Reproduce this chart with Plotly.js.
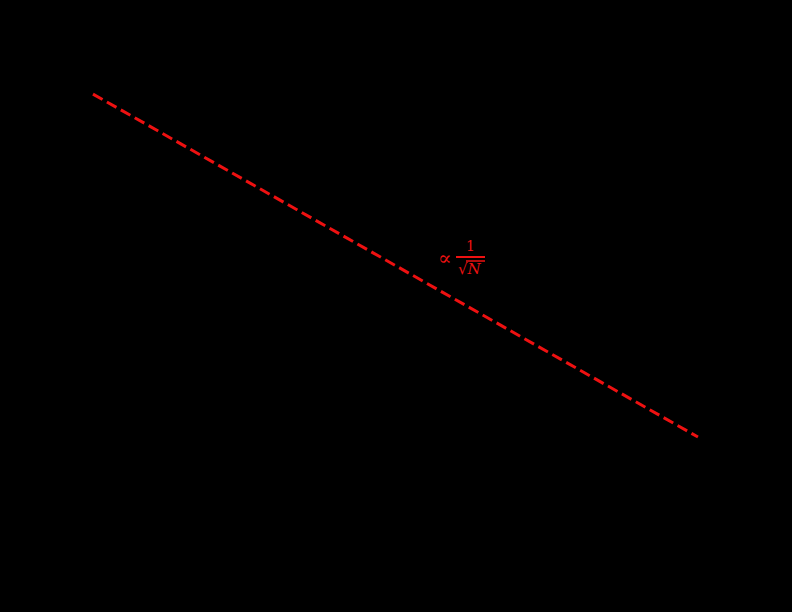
<!DOCTYPE html>
<html>
<head>
<meta charset="utf-8">
<script src="https://cdn.plot.ly/plotly-3.0.1.min.js"></script>
<style>
html, body { margin: 0; padding: 0; background: #000; }
#chart { width: 792px; height: 612px; }
</style>
</head>
<body>
<div id="chart"></div>
<script>
// Reference scaling line  error ∝ 1/sqrt(N)
var refN = [10, 100, 1000, 10000, 100000];
var refErr = [0.3162, 0.1, 0.03162, 0.01, 0.003162];
// Tick labels
var xTickVals = [10, 100, 1000, 10000, 100000];
var xTickText = ['10¹', '10²', '10³', '10⁴', '10⁵'];
var yTickVals = [0.001, 0.01, 0.1];
var yTickText = ['10⁻³', '10⁻²', '10⁻¹'];

var traces = [{
  x: refN,
  y: refErr,
  type: 'scatter',
  mode: 'lines',
  line: { color: '#ee1111', width: 3, dash: '11px,5px' },
  showlegend: false,
  hoverinfo: 'skip'
}];

var layout = {
  width: 792,
  height: 612,
  paper_bgcolor: '#000000',
  plot_bgcolor: '#000000',
  margin: { l: 60, r: 60, t: 50, b: 70 },
  font: { family: 'DejaVu Serif', color: '#000000', size: 14 },
  xaxis: {
    type: 'log',
    range: [0.782, 5.225],
    tickmode: 'array',
    tickvals: xTickVals,
    ticktext: xTickText,
    showgrid: false,
    zeroline: false,
    showline: true,
    linecolor: '#000000',
    ticks: 'inside',
    tickcolor: '#000000',
    tickfont: { color: '#000000' },
    mirror: true
  },
  yaxis: {
    type: 'log',
    range: [-3.112, -0.243],
    tickmode: 'array',
    tickvals: yTickVals,
    ticktext: yTickText,
    showgrid: false,
    zeroline: false,
    showline: true,
    linecolor: '#000000',
    ticks: 'inside',
    tickcolor: '#000000',
    tickfont: { color: '#000000' },
    mirror: true
  },
  annotations: [
    {
      xref: 'paper', yref: 'paper',
      x: (445 - 60) / 672, y: 1 - (258 - 50) / 492,
      text: '∝', showarrow: false,
      font: { family: 'DejaVu Serif', size: 20, color: '#ee1111' }
    },
    {
      xref: 'paper', yref: 'paper',
      x: (470 - 60) / 672, y: 1 - (246 - 50) / 492,
      text: '1', showarrow: false,
      font: { family: 'DejaVu Serif', size: 14, color: '#ee1111' }
    },
    {
      xref: 'paper', yref: 'paper',
      x: (470 - 60) / 672, y: 1 - (269 - 50) / 492,
      text: '√<i>N</i>', showarrow: false,
      font: { family: 'DejaVu Serif', size: 15, color: '#ee1111' }
    }
  ],
  shapes: [
    {
      type: 'line', xref: 'paper', yref: 'paper',
      x0: (456 - 60) / 672, x1: (485 - 60) / 672,
      y0: 1 - (257 - 50) / 492, y1: 1 - (257 - 50) / 492,
      line: { color: '#ee1111', width: 2 }
    },
    {
      type: 'line', xref: 'paper', yref: 'paper',
      x0: (466 - 60) / 672, x1: (485 - 60) / 672,
      y0: 1 - (261 - 50) / 492, y1: 1 - (261 - 50) / 492,
      line: { color: '#ee1111', width: 1.5 }
    }
  ]
};

Plotly.newPlot('chart', traces, layout, { displayModeBar: false, staticPlot: true });
</script>
</body>
</html>
